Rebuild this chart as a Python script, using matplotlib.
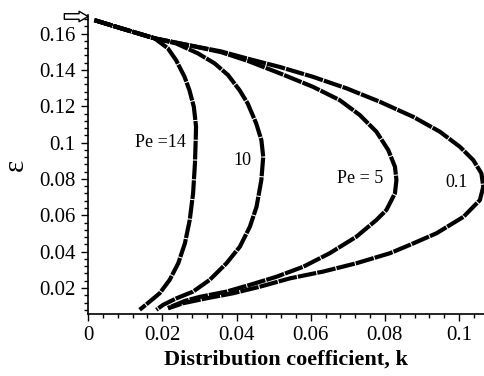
import matplotlib
matplotlib.use("Agg")
import matplotlib.pyplot as plt
from matplotlib.ticker import MultipleLocator

# Data (k, epsilon)
k_pe14 = [0.0017, 0.0089, 0.0179, 0.0215, 0.0237, 0.0260, 0.0273, 0.0285, 0.0291, 0.0290,
          0.0288, 0.0283, 0.0274, 0.0261, 0.0243, 0.0220, 0.0193, 0.0166, 0.0139]
e_pe14 = [0.1674, 0.1629, 0.1574, 0.1519, 0.1454, 0.1362, 0.1289, 0.1197, 0.1087, 0.1014,
          0.0886, 0.0721, 0.0575, 0.0446, 0.0336, 0.0245, 0.0171, 0.0125, 0.0080]

k_pe10 = [0.0017, 0.0089, 0.0179, 0.0237, 0.0296, 0.0341, 0.0377, 0.0408, 0.0430, 0.0453,
          0.0467, 0.0472, 0.0467, 0.0454, 0.0436, 0.0409, 0.0373, 0.0328, 0.0283, 0.0238,
          0.0202, 0.0184]
e_pe10 = [0.1674, 0.1629, 0.1574, 0.1546, 0.1491, 0.1436, 0.1372, 0.1289, 0.1216, 0.1106,
          0.1014, 0.0922, 0.0795, 0.0647, 0.0537, 0.0427, 0.0336, 0.0245, 0.0180, 0.0143,
          0.0107, 0.0080]

k_pe5 = [0.0017, 0.0089, 0.0179, 0.0269, 0.0358, 0.0430, 0.0517, 0.0606, 0.0678, 0.0732,
         0.0777, 0.0809, 0.0827, 0.0831, 0.0827, 0.0804, 0.0777, 0.0723, 0.0651, 0.0580,
         0.0508, 0.0436, 0.0373, 0.0301, 0.0261, 0.0215]
e_pe5 = [0.1674, 0.1629, 0.1574, 0.1537, 0.1498, 0.1450, 0.1381, 0.1307, 0.1234, 0.1152,
         0.1060, 0.0959, 0.0867, 0.0794, 0.0721, 0.0629, 0.0574, 0.0482, 0.0391, 0.0317,
         0.0262, 0.0217, 0.0180, 0.0151, 0.0129, 0.0090]

k_pe01 = [0.0017, 0.0089, 0.0179, 0.0269, 0.0358, 0.0430, 0.0517, 0.0606, 0.0696, 0.0786,
          0.0876, 0.0948, 0.1002, 0.1038, 0.1060, 0.1065, 0.1056, 0.1012, 0.0939, 0.0867,
          0.0813, 0.0723, 0.0633, 0.0544, 0.0463, 0.0391, 0.0319, 0.0256, 0.0216]
e_pe01 = [0.1674, 0.1629, 0.1574, 0.1537, 0.1502, 0.1462, 0.1416, 0.1362, 0.1299, 0.1225,
          0.1142, 0.1060, 0.0977, 0.0904, 0.0831, 0.0757, 0.0684, 0.0592, 0.0501, 0.0437,
          0.0391, 0.0336, 0.0290, 0.0253, 0.0207, 0.0171, 0.0143, 0.0116, 0.0088]

labels = ["Pe =14", "10", "Pe = 5", "0.1"]
label_k = [0.0196, 0.0417, 0.0732, 0.0994]
label_e = [0.100, 0.0904, 0.0805, 0.0778]

xticks = [0, 0.02, 0.04, 0.06, 0.08, 0.1]
xticklabels = ["0", "0.02", "0.04", "0.06", "0.08", "0.1"]
yticks = [0.02, 0.04, 0.06, 0.08, 0.1, 0.12, 0.14, 0.16]
yticklabels = ["0.02", "0.04", "0.06", "0.08", "0.1", "0.12", "0.14", "0.16"]

start_eps = 0.1694

serif = ["Liberation Serif", "DejaVu Serif"]
plt.rcParams['font.family'] = serif

fig = plt.figure(figsize=(4.84, 3.76), dpi=100)
ax = fig.add_axes([0.182, 0.165, 0.818, 0.795])

for kk, ee in [(k_pe14, e_pe14), (k_pe10, e_pe10), (k_pe5, e_pe5), (k_pe01, e_pe01)]:
    ax.plot(kk, ee, color="black", lw=3.0, linestyle=(0, (4.5, 0.25)),
            dash_joinstyle="round", dash_capstyle="butt", clip_on=False)

for t, x, y in zip(labels, label_k, label_e):
    ax.text(x, y, t, fontsize=13, ha="center", va="center")

ax.set_xlim(0, 0.1067)
ax.set_ylim(0.0057, 0.1702)
ax.set_xticks(xticks)
ax.set_xticklabels(xticklabels)
ax.set_yticks(yticks)
ax.set_yticklabels(yticklabels)
ax.xaxis.set_minor_locator(MultipleLocator(0.004))
ax.yaxis.set_minor_locator(MultipleLocator(0.004))
ax.tick_params(which="major", length=5, width=1, labelsize=15, direction="out", pad=4)
ax.tick_params(which="minor", length=3, width=1, direction="out")
for s in ["top", "right"]:
    ax.spines[s].set_visible(False)
for s in ["left", "bottom"]:
    ax.spines[s].set_linewidth(1.2)

ax.set_xlabel("Distribution coefficient, k", fontsize=16, fontweight="bold", labelpad=3)
ax.set_ylabel("ε", fontsize=21, labelpad=7)

# hollow arrow pointing at the axis at the start value
ax.annotate("", xy=(0.0, start_eps), xytext=(-0.06, start_eps),
            xycoords=("axes fraction", "data"), textcoords=("axes fraction", "data"),
            arrowprops=dict(arrowstyle="simple,head_length=0.65,head_width=0.75,tail_width=0.4",
                            facecolor="white", edgecolor="black", lw=1,
                            shrinkA=0, shrinkB=0),
            annotation_clip=False)

fig.savefig("out.png", dpi=100)
